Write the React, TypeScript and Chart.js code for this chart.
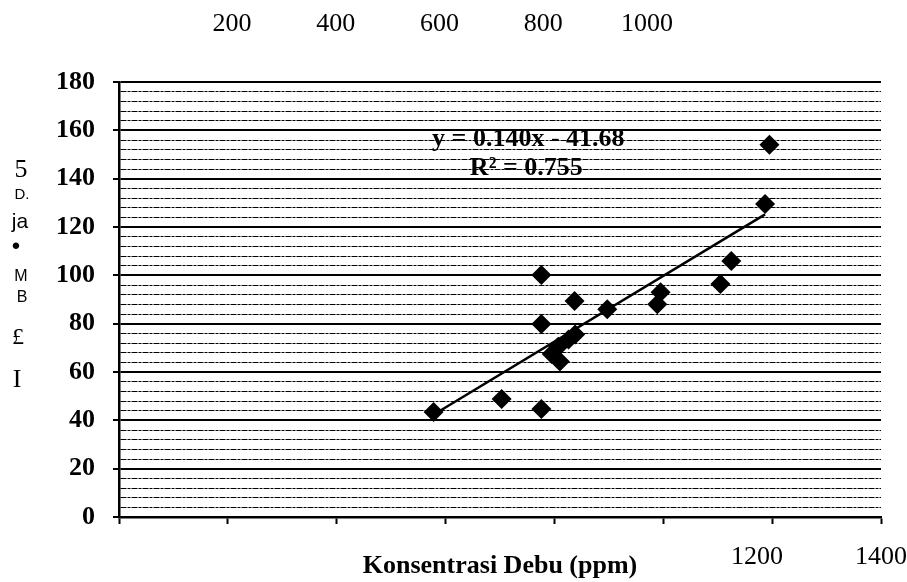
import React, { useEffect, useRef } from "react";
import { Chart, registerables } from "chart.js";

Chart.register(...registerables);

// ---------------- data ----------------
const DUST_PPM = [578, 703, 776, 776, 776, 795, 810, 807, 826, 838, 837, 897, 989, 995, 1105, 1125, 1187, 1195];
const RESPONSE = [43.4, 48.8, 44.7, 100.1, 79.9, 67.5, 64.3, 70.5, 73.5, 75.5, 89.4, 86, 88, 93, 96.4, 105.9, 129.5, 154];
const TREND_X = [580, 1187];
const TREND_Y = [42.6, 125.2];
const X_TICK_LABELS_TOP = [200, 400, 600, 800, 1000];
const X_TICK_LABELS_BOTTOM = [1200, 1400];
const Y_TICK_LABELS = [0, 20, 40, 60, 80, 100, 120, 140, 160, 180];
const X_TITLE = "Konsentrasi Debu (ppm)";
const Y_TITLE_GLYPHS = ["5", "D.", "ja", "•", "M", "B", "£", "I"];
const EQUATION_LINES = ["y = 0.140x - 41.68", "R² = 0.755"];

const SERIF = '"Liberation Serif", "Times New Roman", serif';
const SANS = '"Liberation Sans", Arial, sans-serif';

const GLYPH_LAYOUT = [
  { x: 21, y: 170, font: `26px ${SERIF}` },
  { x: 22, y: 195, font: `15px ${SANS}` },
  { x: 20, y: 222, font: `21px ${SANS}` },
  { x: 16, y: 247, font: `24px ${SANS}` },
  { x: 21, y: 277, font: `16px ${SANS}` },
  { x: 22, y: 298, font: `16px ${SANS}` },
  { x: 18, y: 338, font: `24px ${SERIF}` },
  { x: 17, y: 380, font: `26px ${SERIF}` },
];

const yTitlePlugin = {
  id: "yTitleGlyphs",
  afterDraw(chart: any) {
    const ctx = chart.ctx;
    ctx.save();
    ctx.fillStyle = "#000";
    ctx.textAlign = "center";
    ctx.textBaseline = "middle";
    Y_TITLE_GLYPHS.forEach((g, i) => {
      const l = GLYPH_LAYOUT[i];
      ctx.font = l.font;
      ctx.fillText(g, l.x, l.y);
    });
    ctx.restore();
  },
};

const equationPlugin = {
  id: "equationText",
  afterDatasetsDraw(chart: any) {
    const { ctx, scales } = chart;
    const cx = scales.x.getPixelForValue(752);
    const cy = scales.y.getPixelForValue(156.2);
    ctx.save();
    ctx.fillStyle = "#000";
    ctx.font = `bold 26px ${SERIF}`;
    ctx.textAlign = "center";
    ctx.textBaseline = "middle";
    EQUATION_LINES.forEach((t, i) => ctx.fillText(t, cx - i * 2, cy + i * 28.5));
    ctx.restore();
  },
};

const isMajor = (ctx: any) => ctx && ctx.tick && Y_TICK_LABELS.includes(ctx.tick.value);

export default function App() {
  const ref = useRef<HTMLCanvasElement | null>(null);

  useEffect(() => {
    if (!ref.current) return;
    const points = DUST_PPM.map((x, i) => ({ x, y: RESPONSE[i] }));
    const trend = TREND_X.map((x, i) => ({ x, y: TREND_Y[i] }));
    const zeroPad = (s: any) => {
      s.paddingLeft = 0;
      s.paddingRight = 0;
    };

    const chart = new Chart(ref.current, {
      type: "scatter",
      data: {
        datasets: [
          {
            type: "line",
            data: trend,
            borderColor: "#000",
            borderWidth: 2.5,
            pointRadius: 0,
            fill: false,
            xAxisID: "x",
            yAxisID: "y",
          } as any,
          {
            type: "scatter",
            data: points,
            pointStyle: "rectRot",
            pointRadius: 10,
            backgroundColor: "#000",
            borderColor: "#000",
            borderWidth: 0,
            xAxisID: "x",
            yAxisID: "y",
          } as any,
        ],
      },
      options: {
        animation: false,
        responsive: false,
        maintainAspectRatio: false,
        events: [],
        layout: { padding: { top: 0, left: 0, right: 26, bottom: 0 } },
        plugins: { legend: { display: false }, tooltip: { enabled: false }, title: { display: false } },
        scales: {
          x: {
            type: "linear",
            position: "bottom",
            weight: 0,
            min: 0,
            max: 1400,
            ticks: { stepSize: 200, display: false },
            grid: {
              drawOnChartArea: false,
              drawTicks: true,
              tickLength: 7,
              tickWidth: 2,
              tickColor: "#000",
            },
            border: { display: true, color: "#000", width: 2.5 },
            afterFit: (s: any) => {
              s.height = 7;
              zeroPad(s);
            },
          },
          xBot: {
            type: "linear",
            position: "bottom",
            weight: 1,
            min: 171,
            max: 1400,
            afterBuildTicks: (s: any) => {
              s.ticks = X_TICK_LABELS_BOTTOM.map((value) => ({ value }));
            },
            ticks: {
              maxRotation: 0,
              autoSkip: false,
              padding: 18,
              color: "#000",
              font: { family: SERIF, size: 26 },
              callback: (v: any) => String(v),
            },
            grid: { display: false, drawTicks: false },
            border: { display: false },
            title: {
              display: true,
              text: X_TITLE,
              color: "#000",
              font: { family: SERIF, size: 26, weight: "bold" },
              padding: 0,
            },
            afterFit: (s: any) => {
              s.height = 58;
              zeroPad(s);
            },
          },
          xTop: {
            type: "linear",
            position: "top",
            min: -17.8,
            max: 1451,
            afterBuildTicks: (s: any) => {
              s.ticks = X_TICK_LABELS_TOP.map((value) => ({ value }));
            },
            ticks: {
              maxRotation: 0,
              autoSkip: false,
              padding: 42,
              color: "#000",
              font: { family: SERIF, size: 26 },
              callback: (v: any) => String(v),
            },
            grid: { display: false, drawTicks: false },
            border: { display: false },
            afterFit: (s: any) => {
              s.height = 82;
              zeroPad(s);
            },
          },
          y: {
            type: "linear",
            position: "left",
            min: 0,
            max: 180,
            ticks: {
              stepSize: 4,
              autoSkip: false,
              padding: 18,
              color: "#000",
              font: { family: SERIF, size: 26, weight: "bold" },
              callback: (v: any) => (Y_TICK_LABELS.includes(v) ? String(v) : ""),
            },
            grid: {
              color: "#000",
              lineWidth: (ctx: any) => (isMajor(ctx) ? 2 : 1),
              tickColor: (ctx: any) => (isMajor(ctx) ? "#000" : "rgba(0,0,0,0)"),
              tickLength: 6,
              tickWidth: 2,
            },
            border: {
              display: true,
              color: "#000",
              width: 2.5,
              dash: (ctx: any) => (ctx && ctx.tick && !isMajor(ctx) ? [6, 1, 3, 1] : []),
            },
            afterFit: (s: any) => {
              s.width = 119;
            },
          },
        },
      } as any,
      plugins: [yTitlePlugin, equationPlugin],
    });

    return () => chart.destroy();
  }, []);

  return (
    <div style={{ position: "absolute", left: 0, top: 0, width: 907, height: 582, background: "#fff" }}>
      <canvas ref={ref} width={907} height={582} style={{ display: "block", width: 907, height: 582 }} />
    </div>
  );
}
